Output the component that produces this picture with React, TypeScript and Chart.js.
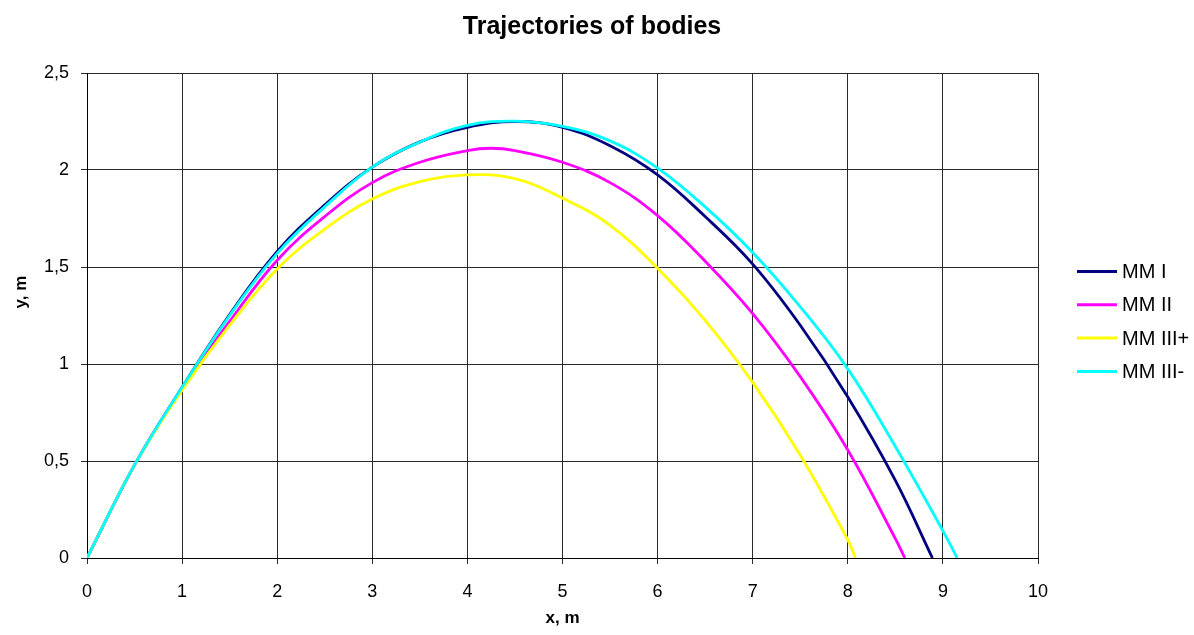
import React, { useEffect, useRef } from 'react';
import { Chart, registerables } from 'chart.js';

Chart.register(...registerables);

const chartTitle = 'Trajectories of bodies';
const xAxisTitle = 'x, m';
const yAxisTitle = 'y, m';

const seriesNames = ['MM I', 'MM II', 'MM III+', 'MM III-'];
const seriesColors = ['#000080', '#FF00FF', '#FFFF00', '#00FFFF'];

const xMM1 = [0, 0.5, 1, 1.5, 2, 2.5, 3, 3.5, 4, 4.5, 5, 5.5, 6, 6.5, 7, 7.5, 8, 8.5, 8.89];
const yMM1 = [0, 0.48, 0.88, 1.255, 1.58, 1.82, 2.015, 2.145, 2.22, 2.25, 2.22, 2.125, 1.975, 1.76, 1.515, 1.2, 0.83, 0.4, 0];

const xMM2 = [0, 0.5, 1, 1.5, 2, 2.5, 3, 3.5, 4, 4.25, 4.5, 5, 5.5, 6, 6.5, 7, 7.5, 8, 8.5, 8.6];
const yMM2 = [0, 0.48, 0.875, 1.22, 1.535, 1.76, 1.935, 2.04, 2.1, 2.112, 2.1, 2.04, 1.935, 1.765, 1.53, 1.26, 0.935, 0.557, 0.1, 0];

const xMM3p = [0, 0.5, 1, 1.5, 2, 2.5, 3, 3.5, 4, 4.5, 5, 5.5, 6, 6.5, 7, 7.5, 8, 8.08];
const yMM3p = [0, 0.48, 0.865, 1.2, 1.49, 1.695, 1.85, 1.94, 1.975, 1.955, 1.855, 1.715, 1.493, 1.225, 0.905, 0.53, 0.094, 0];

const xMM3m = [0, 0.5, 1, 1.5, 2, 2.5, 3, 3.5, 4, 4.5, 5, 5.5, 6, 6.5, 7, 7.5, 8, 8.5, 9, 9.15];
const yMM3m = [0, 0.48, 0.88, 1.25, 1.57, 1.81, 2.015, 2.144, 2.23, 2.252, 2.225, 2.15, 2.01, 1.81, 1.575, 1.295, 0.975, 0.575, 0.14, 0];

const xTicks = [0, 1, 2, 3, 4, 5, 6, 7, 8, 9, 10];
const yTicks = [0, 0.5, 1, 1.5, 2, 2.5];

const seriesX = [xMM1, xMM2, xMM3p, xMM3m];
const seriesY = [yMM1, yMM2, yMM3p, yMM3m];

const FONT = '"Liberation Sans", Arial, sans-serif';
const GRID = '#2a2a2a';

const overlayPlugin = {
  id: 'overlay',
  beforeDraw(chart: any) {
    const ctx = chart.ctx;
    ctx.save();
    ctx.fillStyle = '#ffffff';
    ctx.fillRect(0, 0, chart.width, chart.height);
    ctx.restore();
  },
  afterDraw(chart: any) {
    const ctx = chart.ctx;
    const area = chart.chartArea;
    ctx.save();
    ctx.fillStyle = '#000';
    // chart title
    ctx.font = `bold 25px ${FONT}`;
    ctx.textAlign = 'center';
    ctx.textBaseline = 'middle';
    ctx.fillText(chartTitle, 592, 27);
    // axis titles
    ctx.font = `bold 17px ${FONT}`;
    ctx.fillText(xAxisTitle, (area.left + area.right) / 2, 618);
    ctx.translate(21, 292);
    ctx.rotate(-Math.PI / 2);
    ctx.fillText(yAxisTitle, 0, 0);
    ctx.restore();

    // legend
    ctx.save();
    ctx.font = `20px ${FONT}`;
    ctx.textAlign = 'left';
    ctx.textBaseline = 'middle';
    seriesNames.forEach((name, i) => {
      const y = 271.5 + i * 33.3;
      ctx.strokeStyle = seriesColors[i];
      ctx.lineWidth = 3;
      ctx.beginPath();
      ctx.moveTo(1077, y);
      ctx.lineTo(1117, y);
      ctx.stroke();
      ctx.fillStyle = '#000';
      ctx.fillText(name, 1122, y + 1);
    });
    ctx.restore();
  },
};

export default function App() {
  const canvasRef = useRef<HTMLCanvasElement | null>(null);

  useEffect(() => {
    if (!canvasRef.current) return;
    const datasets = seriesNames.map((name, i) => ({
      label: name,
      data: seriesX[i].map((x, j) => ({ x, y: seriesY[i][j] })),
      borderColor: seriesColors[i],
      backgroundColor: seriesColors[i],
      borderWidth: 2.8,
      pointRadius: 0,
      tension: 0.4,
      fill: false,
      order: seriesNames.length - i,
    }));

    const chart = new Chart(canvasRef.current, {
      type: 'line',
      data: { datasets },
      options: {
        animation: false,
        responsive: false,
        maintainAspectRatio: false,
        layout: { padding: { left: 0, right: 156, top: 73, bottom: 0 } },
        plugins: {
          legend: { display: false },
          tooltip: { enabled: false },
          title: { display: false },
        },
        scales: {
          x: {
            type: 'linear',
            min: 0,
            max: 10,
            afterBuildTicks: (scale: any) => {
              scale.ticks = xTicks.map((v) => ({ value: v }));
            },
            afterFit: (scale: any) => {
              scale.height = 77;
            },
            ticks: {
              color: '#000',
              font: { family: FONT, size: 18 },
              padding: 17,
              maxRotation: 0,
              autoSkip: false,
              callback: (v: any) => String(v),
            },
            grid: { color: GRID, lineWidth: 1, tickLength: 6, drawTicks: true },
            border: { color: '#000', width: 1 },
          },
          y: {
            type: 'linear',
            min: 0,
            max: 2.5,
            afterBuildTicks: (scale: any) => {
              scale.ticks = yTicks.map((v) => ({ value: v }));
            },
            afterFit: (scale: any) => {
              scale.width = 87;
            },
            ticks: {
              color: '#000',
              font: { family: FONT, size: 18 },
              padding: 12,
              autoSkip: false,
              callback: (v: any) => String(v).replace('.', ','),
            },
            grid: { color: GRID, lineWidth: 1, tickLength: 6, drawTicks: true },
            border: { color: '#000', width: 1 },
          },
        },
      },
      plugins: [overlayPlugin],
    });
    return () => chart.destroy();
  }, []);

  return (
    <div style={{ position: 'absolute', left: 0, top: 0, width: 1194, height: 635, background: '#fff' }}>
      <canvas ref={canvasRef} width={1194} height={635} style={{ display: 'block', width: 1194, height: 635 }} />
    </div>
  );
}
